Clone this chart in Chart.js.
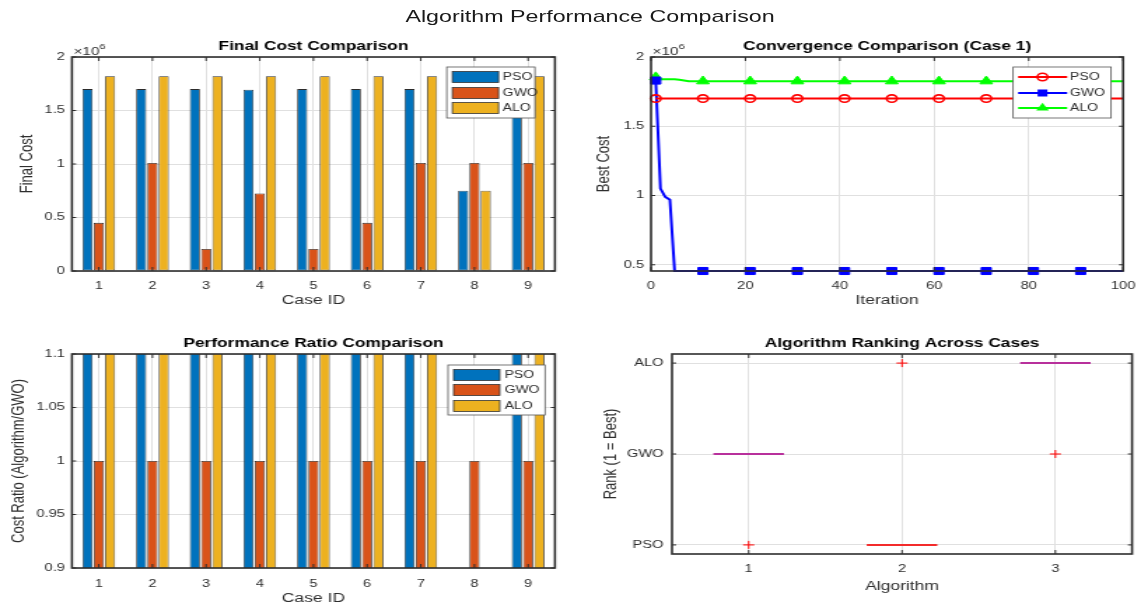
<!DOCTYPE html>
<html>
<head>
<meta charset="utf-8">
<title>Algorithm Performance Comparison</title>
<script src="https://cdn.jsdelivr.net/npm/chart.js@4.4.1/dist/chart.umd.min.js"></script>
<style>
  html, body { margin: 0; padding: 0; background: #fff; }
  body { width: 1148px; height: 606px; overflow: hidden; position: relative; }
  /* the reference figure is stretched sideways, so the whole stage is stretched too */
  #stage { position: absolute; left: 0; top: 0; width: 820px; height: 606px; transform: scaleX(1.4); transform-origin: 0 0; }
  #stage canvas { position: absolute; }
  #suptitle { position: absolute; left: 0; top: 7px; width: 843px; text-align: center; font: 16.6px "Liberation Sans", Arial, sans-serif; color: #1a1a1a; }
</style>
</head>
<body>
<div id="stage">
  <div id="suptitle">Algorithm Performance Comparison</div>
  <canvas id="costChart" width="414" height="282" style="left:0;top:30px"></canvas>
  <canvas id="convChart" width="406" height="282" style="left:414px;top:30px"></canvas>
  <canvas id="ratioChart" width="414" height="286" style="left:0;top:320px"></canvas>
  <canvas id="rankChart" width="406" height="286" style="left:414px;top:320px"></canvas>
</div>
<script>
// ---- data ----
const algorithms = ["PSO", "GWO", "ALO"];
const caseIds = ["1", "2", "3", "4", "5", "6", "7", "8", "9"];

// final cost per case, x 10^6
const psoFinal = [1.70, 1.70, 1.70, 1.695, 1.70, 1.70, 1.70, 0.75, 1.70];
const gwoFinal = [0.45, 1.01, 0.205, 0.725, 0.205, 0.45, 1.01, 1.01, 1.01];
const aloFinal = [1.82, 1.82, 1.82, 1.82, 1.82, 1.82, 1.82, 0.75, 1.82];
const costTicks = [0, 0.5, 1, 1.5, 2];
const ratioTicks = [0.9, 0.95, 1, 1.05, 1.1];

// best cost per iteration for case 1, x 10^6
const psoCurve = [
  1.70, 1.70, 1.70, 1.70, 1.70, 1.70, 1.70, 1.70, 1.70, 1.70,
  1.70, 1.70, 1.70, 1.70, 1.70, 1.70, 1.70, 1.70, 1.70, 1.70,
  1.70, 1.70, 1.70, 1.70, 1.70, 1.70, 1.70, 1.70, 1.70, 1.70,
  1.70, 1.70, 1.70, 1.70, 1.70, 1.70, 1.70, 1.70, 1.70, 1.70,
  1.70, 1.70, 1.70, 1.70, 1.70, 1.70, 1.70, 1.70, 1.70, 1.70,
  1.70, 1.70, 1.70, 1.70, 1.70, 1.70, 1.70, 1.70, 1.70, 1.70,
  1.70, 1.70, 1.70, 1.70, 1.70, 1.70, 1.70, 1.70, 1.70, 1.70,
  1.70, 1.70, 1.70, 1.70, 1.70, 1.70, 1.70, 1.70, 1.70, 1.70,
  1.70, 1.70, 1.70, 1.70, 1.70, 1.70, 1.70, 1.70, 1.70, 1.70,
  1.70, 1.70, 1.70, 1.70, 1.70, 1.70, 1.70, 1.70, 1.70, 1.70,
];
const gwoCurve = [
  1.83, 1.05, 0.99, 0.97, 0.455, 0.455, 0.455, 0.455, 0.455, 0.455,
  0.455, 0.455, 0.455, 0.455, 0.455, 0.455, 0.455, 0.455, 0.455, 0.455,
  0.455, 0.455, 0.455, 0.455, 0.455, 0.455, 0.455, 0.455, 0.455, 0.455,
  0.455, 0.455, 0.455, 0.455, 0.455, 0.455, 0.455, 0.455, 0.455, 0.455,
  0.455, 0.455, 0.455, 0.455, 0.455, 0.455, 0.455, 0.455, 0.455, 0.455,
  0.455, 0.455, 0.455, 0.455, 0.455, 0.455, 0.455, 0.455, 0.455, 0.455,
  0.455, 0.455, 0.455, 0.455, 0.455, 0.455, 0.455, 0.455, 0.455, 0.455,
  0.455, 0.455, 0.455, 0.455, 0.455, 0.455, 0.455, 0.455, 0.455, 0.455,
  0.455, 0.455, 0.455, 0.455, 0.455, 0.455, 0.455, 0.455, 0.455, 0.455,
  0.455, 0.455, 0.455, 0.455, 0.455, 0.455, 0.455, 0.455, 0.455, 0.455,
];
const aloCurve = [
  1.855, 1.84, 1.84, 1.84, 1.84, 1.835, 1.83, 1.825, 1.825, 1.825,
  1.825, 1.825, 1.825, 1.825, 1.825, 1.825, 1.825, 1.825, 1.825, 1.825,
  1.825, 1.825, 1.825, 1.825, 1.825, 1.825, 1.825, 1.825, 1.825, 1.825,
  1.825, 1.825, 1.825, 1.825, 1.825, 1.825, 1.825, 1.825, 1.825, 1.825,
  1.825, 1.825, 1.825, 1.825, 1.825, 1.825, 1.825, 1.825, 1.825, 1.825,
  1.825, 1.825, 1.825, 1.825, 1.825, 1.825, 1.825, 1.825, 1.825, 1.825,
  1.825, 1.825, 1.825, 1.825, 1.825, 1.825, 1.825, 1.825, 1.825, 1.825,
  1.825, 1.825, 1.825, 1.825, 1.825, 1.825, 1.825, 1.825, 1.825, 1.825,
  1.825, 1.825, 1.825, 1.825, 1.825, 1.825, 1.825, 1.825, 1.825, 1.825,
  1.825, 1.825, 1.825, 1.825, 1.825, 1.825, 1.825, 1.825, 1.825, 1.825,
];
const iterTicks = [0, 20, 40, 60, 80, 100];
const bestCostTicks = [0.5, 1, 1.5, 2];

// rank boxplot (each box collapses to its median, one outlier each)
const rankMedian = [2, 1, 3];
const rankOutlier = [1, 3, 2];
const rankLabels = ["PSO", "GWO", "ALO"];
const algoTicks = [1, 2, 3];
const rankTicks = [1, 2, 3];

// ---- style ----
const FONT = "'Liberation Sans', Arial, sans-serif";
const INK = "#2e2e2e";
const GRID = "#e0e0e0";
const TICK_SIZE = 10.5;
const barColors = ["#0072BD", "#D95319", "#EDB120"];
const lineColors = ["#ff0000", "#0000ff", "#00ff00"];
const lineMarkers = ["circle", "rect", "triangle"];
const boxColors = ["#b8309c", "#f32b2b", "#b8309c"];
const BOX_HALF = 0.23;

function font(size, weight) {
  return { family: FONT, size: size, weight: weight || "normal" };
}

function drawMarker(ctx, style, x, y, color) {
  ctx.save();
  ctx.strokeStyle = color;
  ctx.fillStyle = color;
  ctx.lineWidth = 1.5;
  ctx.beginPath();
  if (style === "circle") {
    ctx.arc(x, y, 3.7, 0, Math.PI * 2);
    ctx.stroke();
  } else if (style === "rect") {
    ctx.rect(x - 3.5, y - 3.5, 7, 7);
    ctx.fill();
  } else {
    ctx.moveTo(x, y - 5.2);
    ctx.lineTo(x + 4.5, y + 2.6);
    ctx.lineTo(x - 4.5, y + 2.6);
    ctx.closePath();
    ctx.fill();
  }
  ctx.restore();
}

function drawLegend(ctx, a, lg) {
  const x0 = a.right - lg.right - lg.width;
  const y0 = a.top + lg.top;
  ctx.fillStyle = "#fff";
  ctx.fillRect(x0, y0, lg.width, lg.height);
  ctx.strokeStyle = "#555";
  ctx.lineWidth = 0.8;
  ctx.strokeRect(x0, y0, lg.width, lg.height);
  ctx.font = "10px " + FONT;
  ctx.textAlign = "left";
  ctx.textBaseline = "middle";
  algorithms.forEach((label, i) => {
    const cy = y0 + lg.rows[i];
    if (lg.kind === "bar") {
      ctx.fillStyle = barColors[i];
      ctx.fillRect(x0 + 4, cy - 5.5, 33, 11);
      ctx.strokeStyle = "#333";
      ctx.lineWidth = 0.8;
      ctx.strokeRect(x0 + 4, cy - 5.5, 33, 11);
    } else {
      ctx.strokeStyle = lineColors[i];
      ctx.lineWidth = 2;
      ctx.beginPath();
      ctx.moveTo(x0 + 3.6, cy);
      ctx.lineTo(x0 + 38.6, cy);
      ctx.stroke();
      drawMarker(ctx, lineMarkers[i], x0 + 21, cy, lineColors[i]);
    }
    ctx.fillStyle = INK;
    ctx.fillText(label, x0 + lg.textX, cy + 0.5);
  });
}

// matlab look: boxed axes, inward ticks, bold title, x10^n note, inset legend
function matlabAxes(o) {
  return {
    id: "matlabAxes",
    afterDraw(chart) {
      const { ctx, chartArea: a, scales } = chart;
      ctx.save();
      ctx.strokeStyle = INK;
      ctx.lineWidth = 1;
      ctx.beginPath();
      scales.x.ticks.forEach((t, i) => {
        const px = scales.x.getPixelForTick(i);
        ctx.moveTo(px, a.bottom);
        ctx.lineTo(px, a.bottom - 4);
        ctx.moveTo(px, a.top);
        ctx.lineTo(px, a.top + 4);
      });
      scales.y.ticks.forEach((t, i) => {
        const py = scales.y.getPixelForTick(i);
        ctx.moveTo(a.left, py);
        ctx.lineTo(a.left + 3, py);
        ctx.moveTo(a.right, py);
        ctx.lineTo(a.right - 3, py);
      });
      ctx.stroke();
      ctx.lineWidth = 1.6;
      ctx.strokeRect(a.left, a.top, a.right - a.left, a.bottom - a.top);

      ctx.fillStyle = "#000";
      ctx.font = "bold 12.4px " + FONT;
      ctx.textAlign = "center";
      ctx.textBaseline = "middle";
      ctx.fillText(o.title, (a.left + a.right) / 2, a.top - 10.5);

      if (o.exponent) {
        ctx.fillStyle = INK;
        ctx.textAlign = "left";
        ctx.textBaseline = "alphabetic";
        ctx.font = "11px " + FONT;
        ctx.fillText("\u00d710", a.left + 1, a.top - 2.5);
        const w = ctx.measureText("\u00d710").width;
        ctx.font = "8px " + FONT;
        ctx.fillText(o.exponent, a.left + 1 + w, a.top - 8);
      }
      if (o.legend) drawLegend(ctx, a, o.legend);
      ctx.restore();
    },
  };
}

function caseAxis(height, tickPad, titlePad) {
  return {
    type: "category",
    afterFit: (s) => { s.height = height; },
    grid: { color: GRID, drawTicks: false, offset: false },
    border: { display: false },
    ticks: { color: INK, font: font(TICK_SIZE), padding: tickPad, maxRotation: 0, autoSkip: false },
    title: { display: true, text: "Case ID", color: INK, font: font(12.5), padding: { top: 0, bottom: titlePad } },
  };
}

function linearAxis(o) {
  return {
    type: "linear",
    min: o.min,
    max: o.max,
    afterBuildTicks: (s) => { s.ticks = o.ticks.map((v) => ({ value: v })); },
    afterFit: o.vertical ? (s) => { s.width = o.size; } : (s) => { s.height = o.size; },
    grid: { color: GRID, drawTicks: false },
    border: { display: false },
    ticks: {
      color: INK, font: font(TICK_SIZE), padding: o.tickPad, autoSkip: false, maxRotation: 0,
      callback: o.format || ((v) => String(v)),
    },
    title: {
      display: true, text: o.title, color: INK, font: font(o.vertical ? 13 : 12.5),
      padding: o.vertical ? { top: o.titlePad, bottom: 0 } : { top: 0, bottom: o.titlePad },
    },
  };
}

const common = {
  responsive: false,
  animation: false,
  events: [],
};

// ---- final cost ----
new Chart(document.getElementById("costChart"), {
  type: "bar",
  data: {
    labels: caseIds,
    datasets: [psoFinal, gwoFinal, aloFinal].map((vals, i) => ({
      label: algorithms[i],
      data: vals,
      backgroundColor: barColors[i],
      borderColor: "#2b2b2b",
      borderWidth: 0.8,
      borderSkipped: false,
      categoryPercentage: 0.63,
      barPercentage: 0.9,
    })),
  },
  options: {
    ...common,
    layout: { padding: { top: 27, right: 17.6, bottom: 0, left: 0 } },
    plugins: { legend: { display: false }, tooltip: { enabled: false } },
    scales: {
      x: caseAxis(41, 9, 3.5),
      y: linearAxis({ vertical: true, size: 51.4, min: 0, max: 2, ticks: costTicks, tickPad: 5, title: "Final Cost", titlePad: 12 }),
    },
  },
  plugins: [matlabAxes({
    title: "Final Cost Comparison",
    exponent: "6",
    legend: { kind: "bar", right: 14.3, top: 10, width: 63, height: 51, rows: [10, 26, 41], textX: 40 },
  })],
});

// ---- convergence ----
const iterations = psoCurve.map((v, i) => i + 1);
new Chart(document.getElementById("convChart"), {
  type: "line",
  data: {
    datasets: [psoCurve, gwoCurve, aloCurve].map((vals, i) => ({
      label: algorithms[i],
      data: vals.map((v, k) => ({ x: iterations[k], y: v })),
      borderColor: lineColors[i],
      backgroundColor: i === 0 ? "rgba(0,0,0,0)" : lineColors[i],
      borderWidth: 2,
      pointStyle: lineMarkers[i],
      pointRadius: (c) => (c.dataIndex % 10 === 0 ? [3.7, 5, 5.2][i] : 0),
      pointBorderWidth: i === 0 ? 1.6 : 1,
      tension: 0,
      clip: false,
    })),
  },
  options: {
    ...common,
    layout: { padding: { top: 27, right: 11.4, bottom: 0, left: 0 } },
    plugins: { legend: { display: false }, tooltip: { enabled: false } },
    scales: {
      x: linearAxis({ min: 0, max: 100, ticks: iterTicks, size: 41, tickPad: 9, title: "Iteration", titlePad: 3.5 }),
      y: linearAxis({ vertical: true, size: 51, min: 0.455, max: 2, ticks: bestCostTicks, tickPad: 5, title: "Best Cost", titlePad: 10 }),
    },
  },
  plugins: [matlabAxes({
    title: "Convergence Comparison (Case 1)",
    exponent: "6",
    legend: { kind: "line", right: 8.6, top: 10, width: 70, height: 51, rows: [10, 26, 41], textX: 40.7 },
  })],
});

// ---- performance ratio ----
const ratios = [psoFinal, gwoFinal, aloFinal].map((vals) => vals.map((v, k) => v / gwoFinal[k]));
new Chart(document.getElementById("ratioChart"), {
  type: "bar",
  data: {
    labels: caseIds,
    datasets: ratios.map((vals, i) => ({
      label: algorithms[i],
      data: vals,
      backgroundColor: barColors[i],
      borderColor: "#2b2b2b",
      borderWidth: 0.8,
      borderSkipped: false,
      categoryPercentage: 0.63,
      barPercentage: 0.9,
      clip: 0,
    })),
  },
  options: {
    ...common,
    layout: { padding: { top: 34, right: 17.6, bottom: 0, left: 0 } },
    plugins: { legend: { display: false }, tooltip: { enabled: false } },
    scales: {
      x: caseAxis(38, 10, 0),
      y: linearAxis({ vertical: true, size: 51.4, min: 0.9, max: 1.1, ticks: ratioTicks, tickPad: 5, title: "Cost Ratio (Algorithm/GWO)", titlePad: 6 }),
    },
  },
  plugins: [matlabAxes({
    title: "Performance Ratio Comparison",
    legend: { kind: "bar", right: 7.1, top: 11, width: 69.3, height: 50, rows: [10, 25, 41], textX: 40.4 },
  })],
});

// ---- ranking ----
const rankSets = rankMedian.map((m, i) => ({
  data: [{ x: algoTicks[i] - BOX_HALF, y: m }, { x: algoTicks[i] + BOX_HALF, y: m }],
  borderColor: boxColors[i],
  borderWidth: 2,
  pointRadius: 0,
}));
rankSets.push({
  data: rankOutlier.map((r, i) => ({ x: algoTicks[i], y: r })),
  showLine: false,
  pointStyle: "cross",
  pointRadius: 4,
  borderColor: "#ff0000",
  pointBorderWidth: 1,
});
new Chart(document.getElementById("rankChart"), {
  type: "line",
  data: { datasets: rankSets },
  options: {
    ...common,
    layout: { padding: { top: 34, right: 11.4, bottom: 0, left: 0 } },
    plugins: { legend: { display: false }, tooltip: { enabled: false } },
    scales: {
      x: linearAxis({ min: 0.5, max: 3.5, ticks: algoTicks, size: 52, tickPad: 9, title: "Algorithm", titlePad: 11.5 }),
      y: linearAxis({
        vertical: true, size: 66, min: 0.9, max: 3.1, ticks: rankTicks, tickPad: 6,
        title: "Rank (1 = Best)", titlePad: 14.6, format: (v) => rankLabels[v - 1],
      }),
    },
  },
  plugins: [matlabAxes({ title: "Algorithm Ranking Across Cases" })],
});
</script>
</body>
</html>
